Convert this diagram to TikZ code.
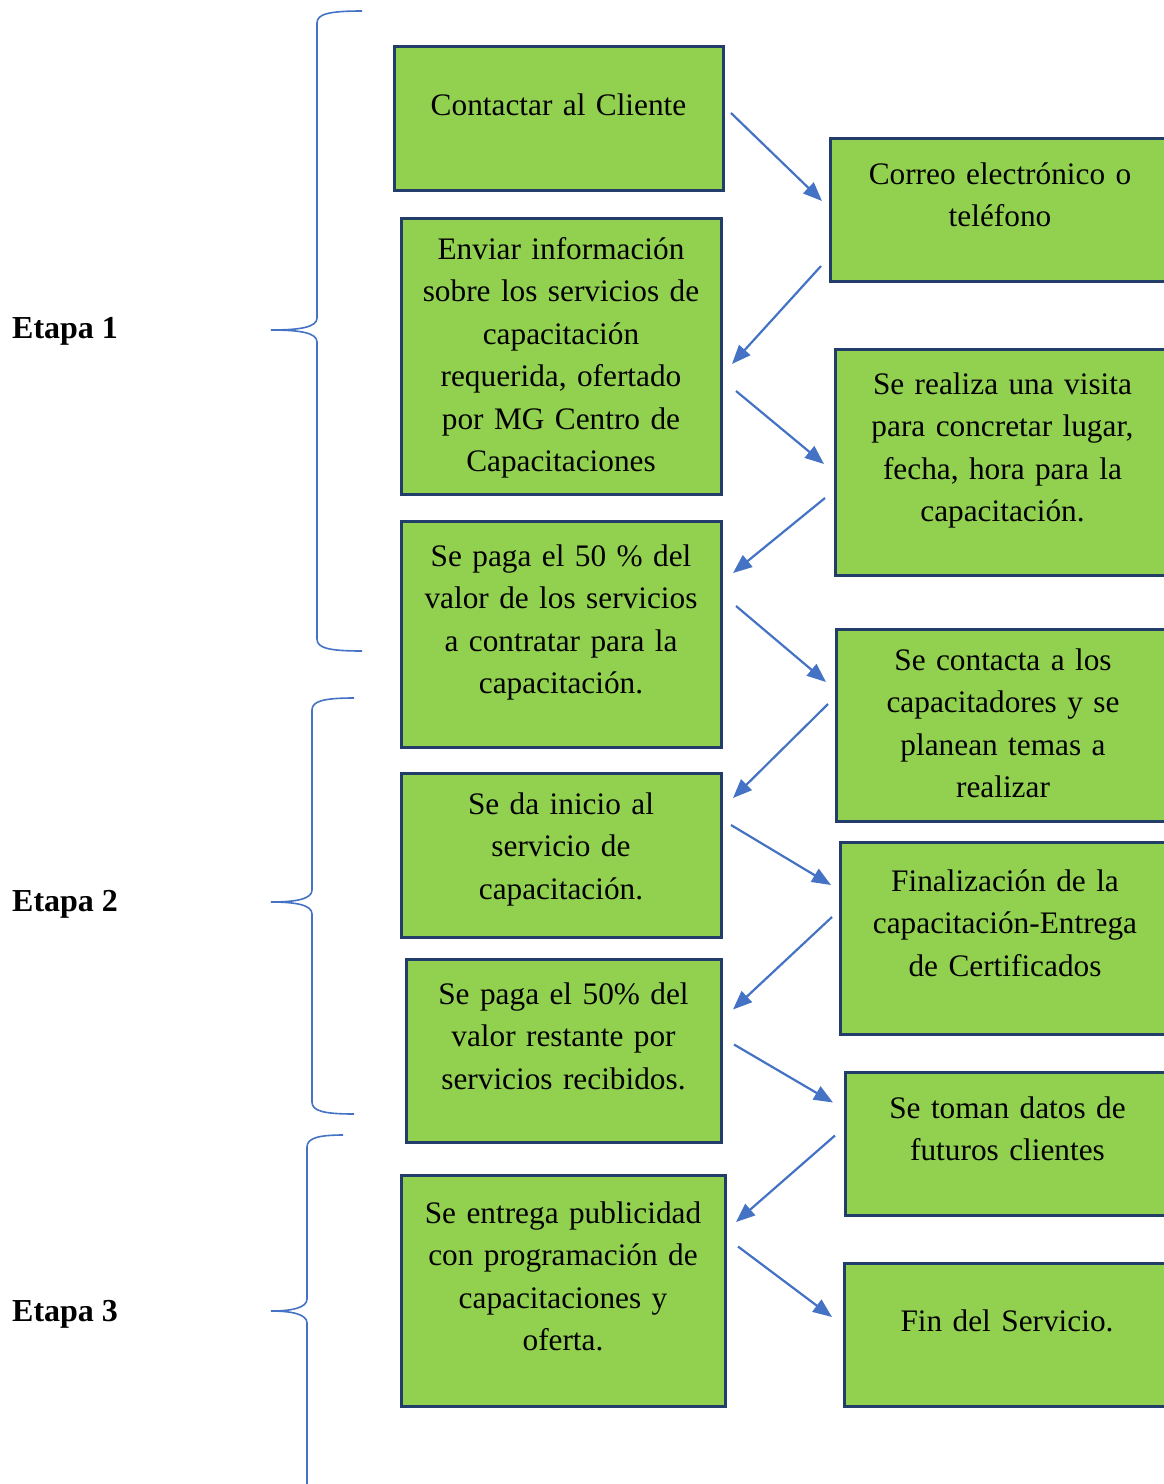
\documentclass[tikz,border=0pt]{standalone}
\usepackage{fontspec}
\setmainfont{Liberation Serif}
\usetikzlibrary{positioning,arrows.meta}
\definecolor{boxgreen}{HTML}{92D050}
\definecolor{boxline}{HTML}{233D6B}
\definecolor{flowblue}{HTML}{4472C4}

\begin{document}
\begin{tikzpicture}[x=1pt,y=-1pt,
  box/.style n args={3}{draw=boxline,fill=boxgreen,line width=3pt,outer sep=0pt,
    inner sep=4pt,align=center,text width=300pt,minimum width=#1,minimum height=#2,
    text height=28pt,text depth=#3,font=\fontsize{31.3}{42.5}\selectfont},
  etapa/.style={anchor=base west,inner sep=0pt,font=\fontsize{32}{40}\selectfont\bfseries},
  flow/.style={draw=flowblue,line width=2.2pt,-{Triangle[length=19pt,width=15pt]}},
  brace/.style={draw=flowblue,line width=1.6pt}]
\clip (0,0) rectangle (1164,1484);

% etapas
\node[etapa] (E1) at (12,338) {Etapa 1};
\node[etapa] (E2) at (12,911) {Etapa 2};
\node[etapa] (E3) at (12,1321) {Etapa 3};
\foreach \yt/\ym/\yb/\xv/\xe in {11/330/651/317/362, 698/902/1114/312/354, 1135/1311/1500/307/343}
  \draw[brace] (\xe,\yt) .. controls (\xv+12,\yt) and (\xv,\yt+3) .. (\xv,\yt+12)
    -- (\xv,\ym-12) .. controls (\xv,\ym-3) and (\xv-16,\ym) .. (271,\ym)
    .. controls (\xv-16,\ym) and (\xv,\ym+3) .. (\xv,\ym+12)
    -- (\xv,\yb-12) .. controls (\xv,\yb-3) and (\xv+12,\yb) .. (\xe,\yb);

% left column
\node[box={329}{144}{34pt}] (L1) at (558.5,118) {Contactar al Cliente};
\node[box={320}{276}{222pt}] (L2) at (561,356) {Enviar información\\ sobre los servicios de\\ capacitación\\ requerida, ofertado\\ por MG Centro de\\ Capacitaciones};
\node[box={320}{226}{164pt}] (L3) at (561,634) {Se paga el 50 \% del\\ valor de los servicios\\ a contratar para la\\ capacitación.};
\node[box={320}{164}{110pt}] (L4) at (561,855) {Se da inicio al\\ servicio de\\ capacitación.};
\node[box={315}{183}{121pt}] (L5) at (563.5,1050.5) {Se paga el 50\% del\\ valor restante por\\ servicios recibidos.};
\node[box={324}{231}{163pt}] (L6) at (563,1290.5) {Se entrega publicidad\\ con programación de\\ capacitaciones y\\ oferta.};

% right column
\node[box={340}{143}{79pt}] (R1) at (1000,209.5) {Correo electrónico o\\ teléfono};
\node[box={335}{226}{164pt}] (R2) at (1002.5,462) {Se realiza una visita\\ para concretar lugar,\\ fecha, hora para la\\ capacitación.};
\node[box={334}{192}{138pt}] (R3) at (1003,725) {Se contacta a los\\ capacitadores y se\\ planean temas a\\ realizar};
\node[box={330}{192}{122pt}] (R4) at (1005,938) {Finalización de la\\ capacitación-Entrega\\ de Certificados};
\node[box={325}{143}{79pt}] (R5) at (1007.5,1143.5) {Se toman datos de\\ futuros clientes};
\node[box={326}{143}{35pt}] (R6) at (1007,1334.5) {Fin del Servicio.};

% zigzag
\draw[flow] ([shift={(8,-5)}]L1.east) -- ([shift={(-8,-8.5)}]R1.west);
\draw[flow] ([shift={(-9,56.5)}]R1.west) -- ([shift={(11,8)}]L2.east);
\draw[flow] ([shift={(15,35)}]L2.east) -- ([shift={(-11,2)}]R2.west);
\draw[flow] ([shift={(-10,36)}]R2.west) -- ([shift={(12,-61)}]L3.east);
\draw[flow] ([shift={(15,-28)}]L3.east) -- ([shift={(-10,-43)}]R3.west);
\draw[flow] ([shift={(-8,-21)}]R3.west) -- ([shift={(12,-57)}]L4.east);
\draw[flow] ([shift={(10,-30)}]L4.east) -- ([shift={(-9,-53)}]R4.west);
\draw[flow] ([shift={(-8,-21)}]R4.west) -- ([shift={(12,-41)}]L5.east);
\draw[flow] ([shift={(13,-6)}]L5.east) -- ([shift={(-12,-41)}]R5.west);
\draw[flow] ([shift={(-10,-8)}]R5.west) -- ([shift={(11,-68.5)}]L6.east);
\draw[flow] ([shift={(13,-44)}]L6.east) -- ([shift={(-12,-17.5)}]R6.west);
\end{tikzpicture}
\end{document}
